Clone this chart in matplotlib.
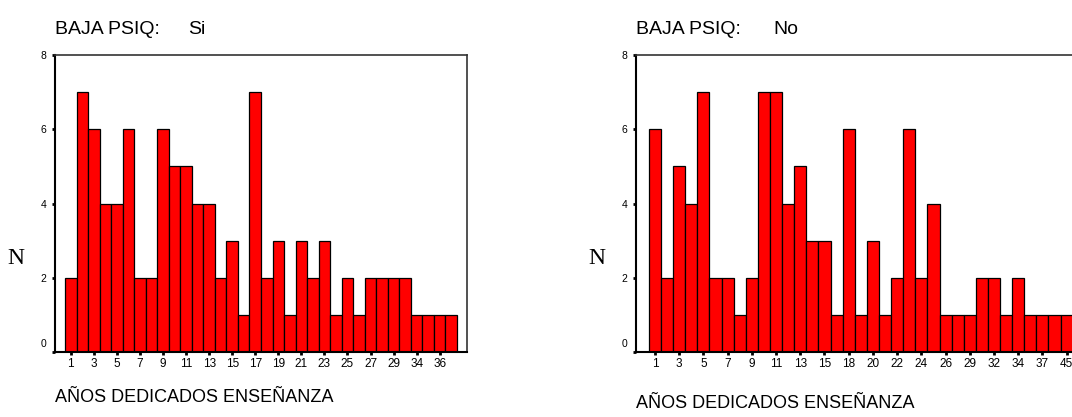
import numpy as np
import matplotlib
matplotlib.use("Agg")
import matplotlib.pyplot as plt
import matplotlib.transforms as mtransforms

plt.rcParams['font.family'] = ['Liberation Sans', 'DejaVu Sans']

# BAJA PSIQ: Si
si_years = ["1", "2", "3", "4", "5", "6", "7", "8", "9", "10", "11", "12", "13", "14",
            "15", "16", "17", "18", "19", "20", "21", "22", "23", "24", "25", "26", "27",
            "28", "29", "30", "34", "35", "36", "38"]
si_counts = [2, 7, 6, 4, 4, 6, 2, 2, 6, 5, 5, 4, 4, 2, 3, 1, 7, 2, 3, 1, 3, 2, 3, 1,
             2, 1, 2, 2, 2, 2, 1, 1, 1, 1]

# BAJA PSIQ: No
no_years = ["1", "2", "3", "4", "5", "6", "7", "8", "9", "10", "11", "12", "13", "14",
            "15", "16", "18", "19", "20", "21", "22", "23", "24", "25", "26", "28", "29",
            "30", "32", "33", "34", "35", "37", "40", "45"]
no_counts = [6, 2, 5, 4, 7, 2, 2, 1, 2, 7, 7, 4, 5, 3, 3, 1, 6, 1, 3, 1, 2, 6, 2, 4,
             1, 1, 1, 2, 2, 1, 2, 1, 1, 1, 1]

y_ticks = [0, 2, 4, 6, 8]

W, H = 1072, 417
fig = plt.figure(figsize=(W / 100, H / 100), dpi=100)


def panel(left_px, right_px, cats, counts, xlim, group, group_x, xlabel_y):
    bottom_px, top_px = 352, 55
    ax = fig.add_axes([left_px / W, (H - bottom_px) / H,
                       (right_px - left_px) / W, (bottom_px - top_px) / H])
    x = np.arange(len(cats))
    ax.bar(x, counts, width=1.0, color="#ff0000", edgecolor="black", linewidth=0.9)
    ax.set_xlim(*xlim)
    ax.set_ylim(0, 8)
    ax.set_xticks(x[::2])
    ax.set_xticklabels(cats[::2], fontsize=8.5)
    ax.set_yticks(y_ticks)
    ax.set_yticklabels([str(v) for v in y_ticks], fontsize=7.5)
    ax.tick_params(axis="x", length=2, width=2, pad=2, direction="out")
    ax.tick_params(axis="y", length=2, width=2, pad=4, direction="out")
    # the 0 label sits a bit above the baseline in the original
    lab0 = ax.get_yticklabels()[0]
    lab0.set_transform(lab0.get_transform() +
                       mtransforms.ScaledTranslation(0, 9 / 100, fig.dpi_scale_trans))
    for s in ["left", "bottom"]:
        ax.spines[s].set_linewidth(1.5)
        ax.spines[s].set_color("black")
    for s in ["top", "right"]:
        ax.spines[s].set_linewidth(1.2)
        ax.spines[s].set_color("#333333")
    fig.text(left_px / W, (H - 30) / H, "BAJA PSIQ:", fontsize=14, ha="left", va="center")
    fig.text(group_x / W, (H - 30) / H, group, fontsize=14, ha="left", va="center")
    fig.text(left_px / W, (H - xlabel_y) / H, "AÑOS DEDICADOS ENSEÑANZA",
             fontsize=13, ha="left", va="center")
    fig.text((left_px - 48) / W, (H - 258) / H, "N", fontsize=17,
             family=["Liberation Serif", "DejaVu Serif"], ha="left", va="center")
    return ax


panel(55, 467, si_years, si_counts, (-1.37, 34.37), "Si", 188, 398)
panel(636, 1086, no_years, no_counts, (-1.57, 35.6), "No", 773, 404)

fig.savefig("out.png", dpi=100)
